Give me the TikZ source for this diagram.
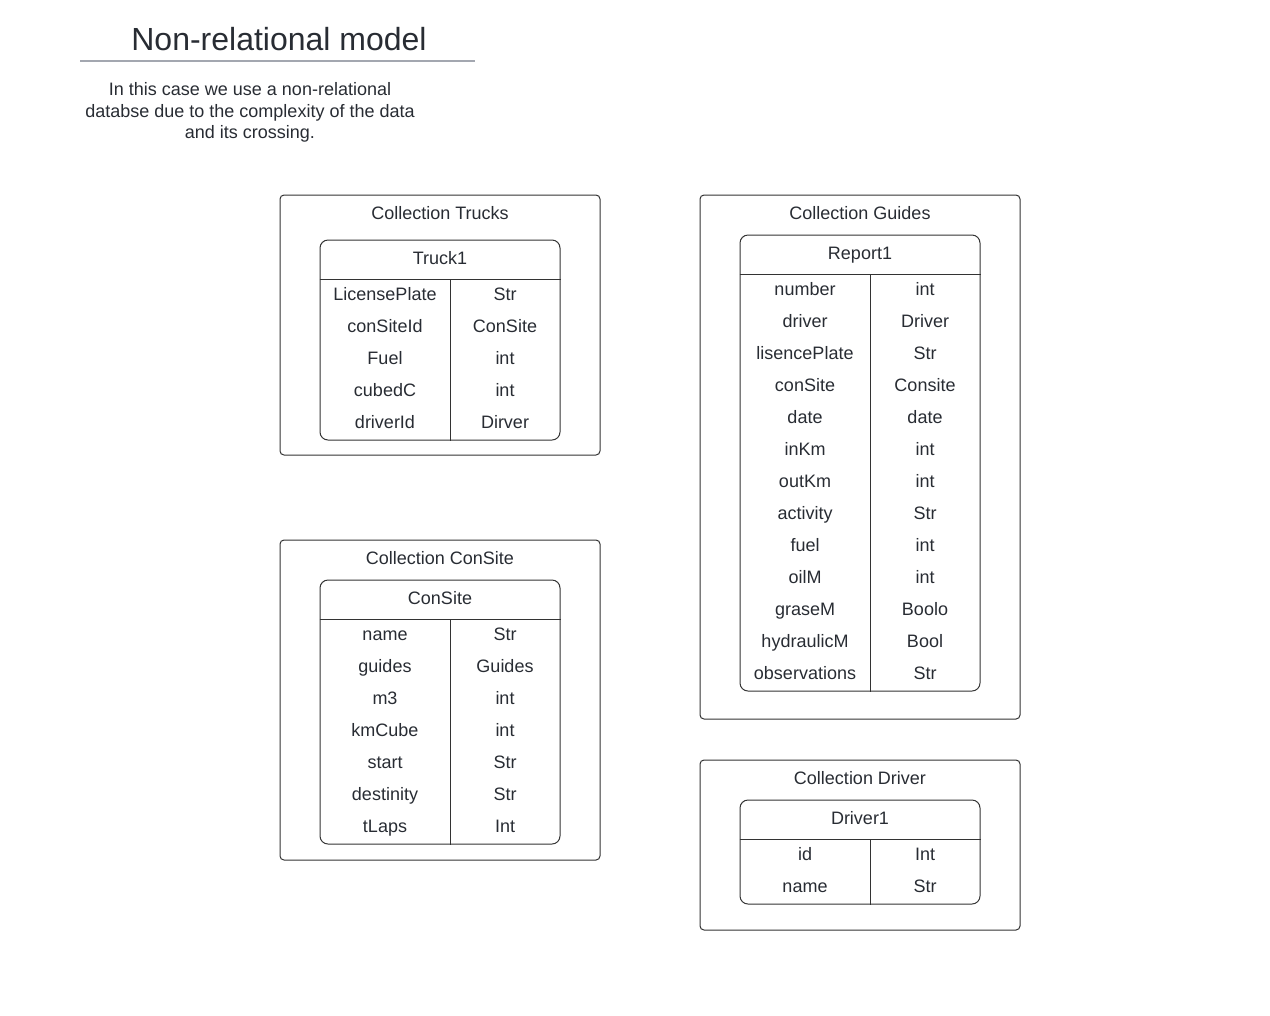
\documentclass[tikz,border=0pt]{standalone}
\usepackage{fontspec}
\setmainfont{Liberation Sans}
\definecolor{ink}{HTML}{282C33}
\definecolor{edge}{HTML}{333333}
\definecolor{titlerule}{HTML}{A3A7B0}
\tikzset{
	txt/.style = {inner sep=0pt, anchor=base, text=ink, font=\fontsize{13.5}{16}\selectfont},
	field/.style = {txt},
	heading/.style = {txt, font=\fontsize{24}{28}\selectfont},
	collection/.style = {draw=edge, line width=0.75pt, rounded corners=3pt, inner sep=0pt, minimum width=240pt},
	entity/.style = {draw=edge, line width=0.75pt, rounded corners=6pt, inner sep=0pt, minimum width=180pt},
	rule/.style = {draw=edge, line width=0.75pt}
}

\begin{document}
\begin{tikzpicture}[x=0.75pt, y=-0.75pt]
		\useasboundingbox (0,0) rectangle (1270,1015);
		% title
		\node [heading] (title) at (279,50) {Non-relational model};
		\coordinate (rl) at (80,61);
		\coordinate (rr) at (475,61);
		\draw [titlerule, line width=1pt] (rl) -- (rr);
		\node [txt, anchor=center, align=center, font=\fontsize{13.5}{16.1}\selectfont] (note) at (250,112.5)
			{In this case we use a non-relational\\databse due to the complexity of the data\\and its crossing.};

		% Collection Trucks
		\node [collection, minimum height=195pt] (trucks) at (440,325) {};
		\node [txt] (trucks-t) at (440,219) {Collection Trucks};
		\node [entity, minimum height=150pt] (truck1) at (440,340) {};
		\node [txt] (truck1-h) at (440,264) {Truck1};
		\draw [rule] ([yshift=-30pt]truck1.north west) -- ([yshift=-30pt]truck1.north east);
		\draw [rule] ([shift={(7.5pt,-30pt)}]truck1.north) -- ([xshift=7.5pt]truck1.south);
		\node [field] (tr-f1) at (385,300) {LicensePlate}; \node [field] (tr-t1) at (505,300) {Str};
		\node [field] (tr-f2) at (385,332) {conSiteId};    \node [field] (tr-t2) at (505,332) {ConSite};
		\node [field] (tr-f3) at (385,364) {Fuel};         \node [field] (tr-t3) at (505,364) {int};
		\node [field] (tr-f4) at (385,396) {cubedC};       \node [field] (tr-t4) at (505,396) {int};
		\node [field] (tr-f5) at (385,428) {driverId};     \node [field] (tr-t5) at (505,428) {Dirver};

		% Collection ConSite
		\node [collection, minimum height=240pt] (consites) at (440,700) {};
		\node [txt] (consites-t) at (440,564) {Collection ConSite};
		\node [entity, minimum height=198pt] (consite) at (440,712) {};
		\node [txt] (consite-h) at (440,604) {ConSite};
		\draw [rule] ([yshift=-30pt]consite.north west) -- ([yshift=-30pt]consite.north east);
		\draw [rule] ([shift={(7.5pt,-30pt)}]consite.north) -- ([xshift=7.5pt]consite.south);
		\node [field] (cs-f1) at (385,640) {name};      \node [field] (cs-t1) at (505,640) {Str};
		\node [field] (cs-f2) at (385,672) {guides};    \node [field] (cs-t2) at (505,672) {Guides};
		\node [field] (cs-f3) at (385,704) {m3};        \node [field] (cs-t3) at (505,704) {int};
		\node [field] (cs-f4) at (385,736) {kmCube};    \node [field] (cs-t4) at (505,736) {int};
		\node [field] (cs-f5) at (385,768) {start};     \node [field] (cs-t5) at (505,768) {Str};
		\node [field] (cs-f6) at (385,800) {destinity}; \node [field] (cs-t6) at (505,800) {Str};
		\node [field] (cs-f7) at (385,832) {tLaps};     \node [field] (cs-t7) at (505,832) {Int};

		% Collection Guides
		\node [collection, minimum height=393pt] (guides) at (860,457) {};
		\node [txt] (guides-t) at (860,219) {Collection Guides};
		\node [entity, minimum height=342pt] (report1) at (860,463) {};
		\node [txt] (report1-h) at (860,259) {Report1};
		\draw [rule] ([yshift=-30pt]report1.north west) -- ([yshift=-30pt]report1.north east);
		\draw [rule] ([shift={(7.5pt,-30pt)}]report1.north) -- ([xshift=7.5pt]report1.south);
		\node [field] (gd-f1) at (805,295) {number};        \node [field] (gd-t1) at (925,295) {int};
		\node [field] (gd-f2) at (805,327) {driver};        \node [field] (gd-t2) at (925,327) {Driver};
		\node [field] (gd-f3) at (805,359) {lisencePlate};  \node [field] (gd-t3) at (925,359) {Str};
		\node [field] (gd-f4) at (805,391) {conSite};       \node [field] (gd-t4) at (925,391) {Consite};
		\node [field] (gd-f5) at (805,423) {date};          \node [field] (gd-t5) at (925,423) {date};
		\node [field] (gd-f6) at (805,455) {inKm};          \node [field] (gd-t6) at (925,455) {int};
		\node [field] (gd-f7) at (805,487) {outKm};         \node [field] (gd-t7) at (925,487) {int};
		\node [field] (gd-f8) at (805,519) {activity};      \node [field] (gd-t8) at (925,519) {Str};
		\node [field] (gd-f9) at (805,551) {fuel};          \node [field] (gd-t9) at (925,551) {int};
		\node [field] (gd-f10) at (805,583) {oilM};         \node [field] (gd-t10) at (925,583) {int};
		\node [field] (gd-f11) at (805,615) {graseM};       \node [field] (gd-t11) at (925,615) {Boolo};
		\node [field] (gd-f12) at (805,647) {hydraulicM};   \node [field] (gd-t12) at (925,647) {Bool};
		\node [field] (gd-f13) at (805,679) {observations}; \node [field] (gd-t13) at (925,679) {Str};

		% Collection Driver
		\node [collection, minimum height=127.5pt] (drivers) at (860,845) {};
		\node [txt] (drivers-t) at (860,784) {Collection Driver};
		\node [entity, minimum height=78pt] (driver1) at (860,852) {};
		\node [txt] (driver1-h) at (860,824) {Driver1};
		\draw [rule] ([yshift=-30pt]driver1.north west) -- ([yshift=-30pt]driver1.north east);
		\draw [rule] ([shift={(7.5pt,-30pt)}]driver1.north) -- ([xshift=7.5pt]driver1.south);
		\node [field] (dr-f1) at (805,860) {id};   \node [field] (dr-t1) at (925,860) {Int};
		\node [field] (dr-f2) at (805,892) {name}; \node [field] (dr-t2) at (925,892) {Str};
\end{tikzpicture}
\end{document}
